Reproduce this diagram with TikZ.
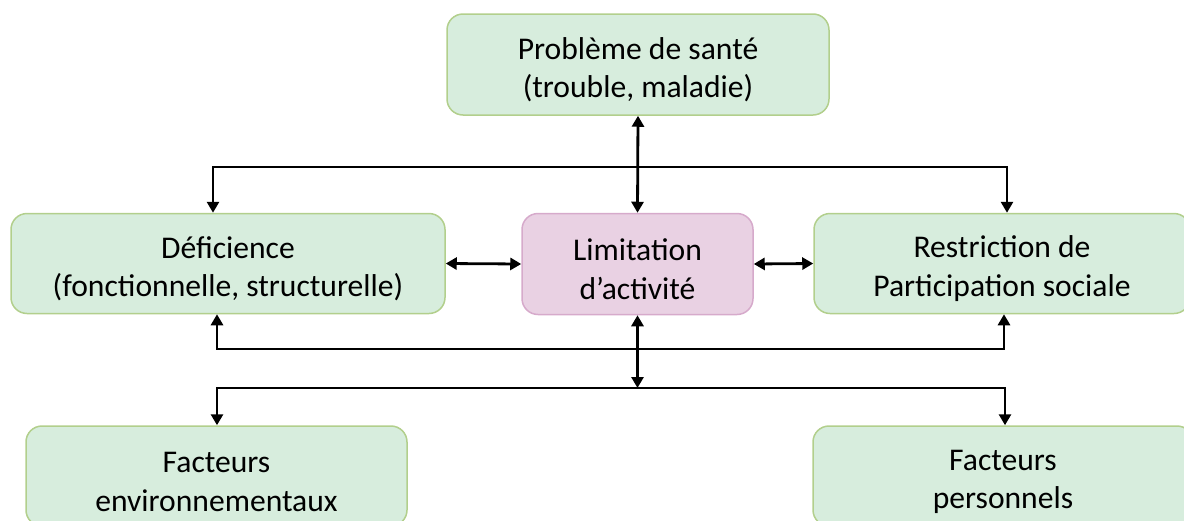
\documentclass[tikz,border=0pt]{standalone}
\usepackage{fontspec}
\setmainfont{Carlito}
\usetikzlibrary{arrows.meta}
\definecolor{boxgreen}{RGB}{215,237,221}
\definecolor{linegreen}{RGB}{178,207,140}
\definecolor{boxpink}{RGB}{233,209,227}
\definecolor{linepink}{RGB}{214,170,203}
\newcommand{\hautligne}{\rule{0pt}{16pt}}
\tikzset{
	etat/.style = {draw = linegreen, fill = boxgreen, line width = 0.75pt, rounded corners = 8pt,
		align = center, inner sep = 0pt, font = \fontsize{15.8}{19.3}\selectfont},
	activite/.style = {etat, draw = linepink, fill = boxpink},
	lien/.style = {line width = 1.4pt, {Triangle[length=5.5pt,width=6pt]}-{Triangle[length=5.5pt,width=6pt]}}
}
\begin{document}
\begin{tikzpicture}[x = 0.5pt, y = -0.5pt]
		\useasboundingbox (0,0) rectangle (1184,520);
		\clip (0,0) rectangle (1184,520);
		%
		\node[etat, minimum width = 191pt, minimum height = 50.5pt] (sante) at (638,64.5) {\hautligne Problème de santé\\(trouble, maladie)};
		\node[etat, minimum width = 217pt, minimum height = 50pt] (defic) at (228,263.5) {\hautligne Déficience\\(fonctionnelle, structurelle)};
		\node[activite, minimum width = 115.5pt, minimum height = 50.5pt] (limit) at (637.5,264) {\hautligne Limitation\\d’activité};
		\node[etat, minimum width = 188pt, minimum height = 50pt] (restr) at (1002,263.5) {\hautligne Restriction de\\Participation sociale};
		\node[etat, minimum width = 190.5pt, minimum height = 50pt] (envir) at (216.5,476) {\hautligne Facteurs\\environnementaux};
		\node[etat, minimum width = 190pt, minimum height = 50pt] (perso) at (1003,476) {\hautligne Facteurs\\personnels};
		%
		\coordinate (hautG) at (213,167);
		\coordinate (hautD) at (1007,167);
		\coordinate (milG) at (217,349);
		\coordinate (milD) at (1004,349);
		\coordinate (basG) at (217,388);
		\coordinate (basD) at (1005,388);
		%
		\draw[lien] (sante.south) -- (limit.north);
		\draw[lien] (defic.east) -- (limit.west);
		\draw[lien] (limit.east) -- (restr.west);
		\draw[lien] (limit.south) -- (limit.south |- basG);
		%
		\draw[lien] (hautG |- defic.north) -- (hautG) -- (hautD) -- (hautD |- restr.north);
		\draw[lien] (milG |- defic.south) -- (milG) -- (milD) -- (milD |- restr.south);
		\draw[lien] (basG |- envir.north) -- (basG) -- (basD) -- (basD |- perso.north);
		%
	\end{tikzpicture}
\end{document}
